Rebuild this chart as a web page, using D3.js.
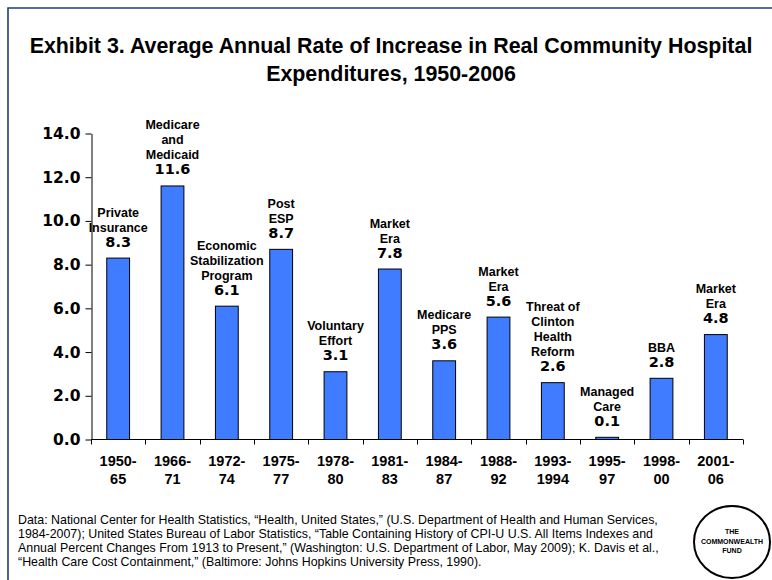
<!DOCTYPE html>
<html>
<head>
<meta charset="utf-8">
<script src="https://cdn.jsdelivr.net/npm/d3@7"></script>
<style>
  body { margin: 0; background: #fff; }
  svg { display: block; font-family: Arial, "Liberation Sans", sans-serif; }
  text { fill: #000; }
  .wide { font-family: "DejaVu Sans", Verdana, sans-serif; }
</style>
</head>
<body>
<script>
const width = 772;
const height = 580;

const periods = [
  ["1950-", "65"], ["1966-", "71"], ["1972-", "74"], ["1975-", "77"],
  ["1978-", "80"], ["1981-", "83"], ["1984-", "87"], ["1988-", "92"],
  ["1993-", "1994"], ["1995-", "97"], ["1998-", "00"], ["2001-", "06"]
];
const rates = [8.3, 11.6, 6.1, 8.7, 3.1, 7.8, 3.6, 5.6, 2.6, 0.1, 2.8, 4.8];
const eras = [
  ["Private", "Insurance"],
  ["Medicare", "and", "Medicaid"],
  ["Economic", "Stabilization", "Program"],
  ["Post", "ESP"],
  ["Voluntary", "Effort"],
  ["Market", "Era"],
  ["Medicare", "PPS"],
  ["Market", "Era"],
  ["Threat of", "Clinton", "Health", "Reform"],
  ["Managed", "Care"],
  ["BBA"],
  ["Market", "Era"]
];
const yTicks = [0, 2, 4, 6, 8, 10, 12, 14];
const titleLines = [
  "Exhibit 3. Average Annual Rate of Increase in Real Community Hospital",
  "Expenditures, 1950-2006"
];
const sourceLines = [
  "Data: National Center for Health Statistics, \u201CHealth, United States,\u201D (U.S. Department of Health and Human Services,",
  "1984-2007); United States Bureau of Labor Statistics, \u201CTable Containing History of CPI-U U.S. All Items Indexes and",
  "Annual Percent Changes From 1913 to Present,\u201D (Washington: U.S. Department of Labor, May 2009); K. Davis et al.,",
  "\u201CHealth Care Cost Containment,\u201D (Baltimore: Johns Hopkins University Press, 1990)."
];
const logoLines = ["THE", "COMMONWEALTH", "FUND"];

const data = periods.map((p, i) => ({
  key: p.join(""),
  period: p,
  rate: rates[i],
  era: eras[i]
}));

let svg = d3
  .select("body")
  .append("svg")
  .attr("width", width)
  .attr("height", height);

// slide frame (left + top rule)
svg.append("path")
  .attr("d", `M8,${height} V8 H${width}`)
  .attr("fill", "none")
  .attr("stroke", "#1d3f78")
  .attr("stroke-width", 1.6);

// title
svg.append("g")
  .selectAll("text")
  .data(titleLines)
  .join("text")
  .attr("x", 391)
  .attr("y", (d, i) => 53 + i * 28)
  .attr("text-anchor", "middle")
  .attr("font-size", 21.4)
  .attr("font-weight", "bold")
  .text((d) => d);

let xScale = d3
  .scaleBand()
  .domain(data.map((d) => d.key))
  .range([91, 743])
  .paddingInner(0.58)
  .paddingOuter(0.29);

let yScale = d3.scaleLinear().domain([0, 14]).range([439.5, 133.5]);

// y axis
let leftAxis = d3
  .axisLeft(yScale)
  .tickValues(yTicks)
  .tickSize(6)
  .tickSizeOuter(0)
  .tickPadding(5)
  .tickFormat(d3.format(".1f"));

let yAxisG = svg.append("g")
  .attr("transform", "translate(91.5,0)")
  .call(leftAxis);
yAxisG.attr("font-family", null).attr("font-size", null);
yAxisG.select(".domain").attr("stroke", "#000");
yAxisG.selectAll(".tick line").attr("stroke", "#000");
yAxisG.selectAll(".tick text")
  .attr("class", "wide")
  .style("font-size", "15.5px")
  .style("font-weight", "bold")
  .attr("fill", "#000");

// bars
svg.append("g")
  .selectAll("rect")
  .data(data)
  .join("rect")
  .attr("x", (d) => xScale(d.key))
  .attr("y", (d) => yScale(d.rate))
  .attr("width", xScale.bandwidth())
  .attr("height", (d) => yScale(0) - yScale(d.rate))
  .attr("fill", "#3f7cff")
  .attr("stroke", "#000")
  .attr("stroke-width", 1);

// x axis: line with ticks on category boundaries
let step = xScale.step();
let x0 = xScale.range()[0];
let xAxisG = svg.append("g").attr("transform", `translate(0,${yScale(0)})`);
xAxisG.append("line")
  .attr("x1", x0)
  .attr("x2", xScale.range()[1])
  .attr("stroke", "#000");
xAxisG.selectAll(".bound")
  .data(d3.range(data.length + 1))
  .join("line")
  .attr("class", "bound")
  .attr("x1", (i) => Math.round(x0 + i * step) + 0.5)
  .attr("x2", (i) => Math.round(x0 + i * step) + 0.5)
  .attr("y1", 0)
  .attr("y2", 5)
  .attr("stroke", "#000");

// period labels
let periodLabels = svg.append("g")
  .selectAll("text")
  .data(data)
  .join("text")
  .attr("text-anchor", "middle")
  .attr("font-size", 14.5)
  .attr("font-weight", "bold");
periodLabels.selectAll("tspan")
  .data((d) => d.period.map((t) => ({ t, cx: xScale(d.key) + xScale.bandwidth() / 2 })))
  .join("tspan")
  .attr("x", (d) => d.cx)
  .attr("y", (d, i) => 466 + i * 18)
  .text((d) => d.t);

// era annotations + values above each bar
let notes = svg.append("g")
  .selectAll("g")
  .data(data)
  .join("g")
  .attr("transform", (d) =>
    `translate(${xScale(d.key) + xScale.bandwidth() / 2},${yScale(d.rate) - 11.5})`);

notes.append("text")
  .attr("class", "wide")
  .attr("text-anchor", "middle")
  .style("font-size", "14.5px")
  .style("font-weight", "bold")
  .text((d) => d.rate.toFixed(1));

notes.selectAll(".era")
  .data((d) => d.era.map((t, i, arr) => ({ t, offset: arr.length - i })))
  .join("text")
  .attr("class", "era")
  .attr("text-anchor", "middle")
  .attr("y", (d) => -d.offset * 15)
  .attr("font-size", 12.5)
  .attr("font-weight", "bold")
  .text((d) => d.t);

// source note
svg.append("g")
  .selectAll("text")
  .data(sourceLines)
  .join("text")
  .attr("x", 18)
  .attr("y", (d, i) => 524 + i * 14)
  .attr("font-size", 12.4)
  .text((d) => d);

// fund logo
let logo = svg.append("g").attr("transform", "translate(732,542)");
logo.append("ellipse")
  .attr("rx", 38)
  .attr("ry", 36)
  .attr("fill", "#fff")
  .attr("stroke", "#000")
  .attr("stroke-width", 2);
logo.selectAll("text")
  .data(logoLines)
  .join("text")
  .attr("text-anchor", "middle")
  .attr("y", (d, i) => -8 + i * 9.5)
  .attr("font-size", 7)
  .attr("font-weight", "bold")
  .text((d) => d);
</script>
</body>
</html>
